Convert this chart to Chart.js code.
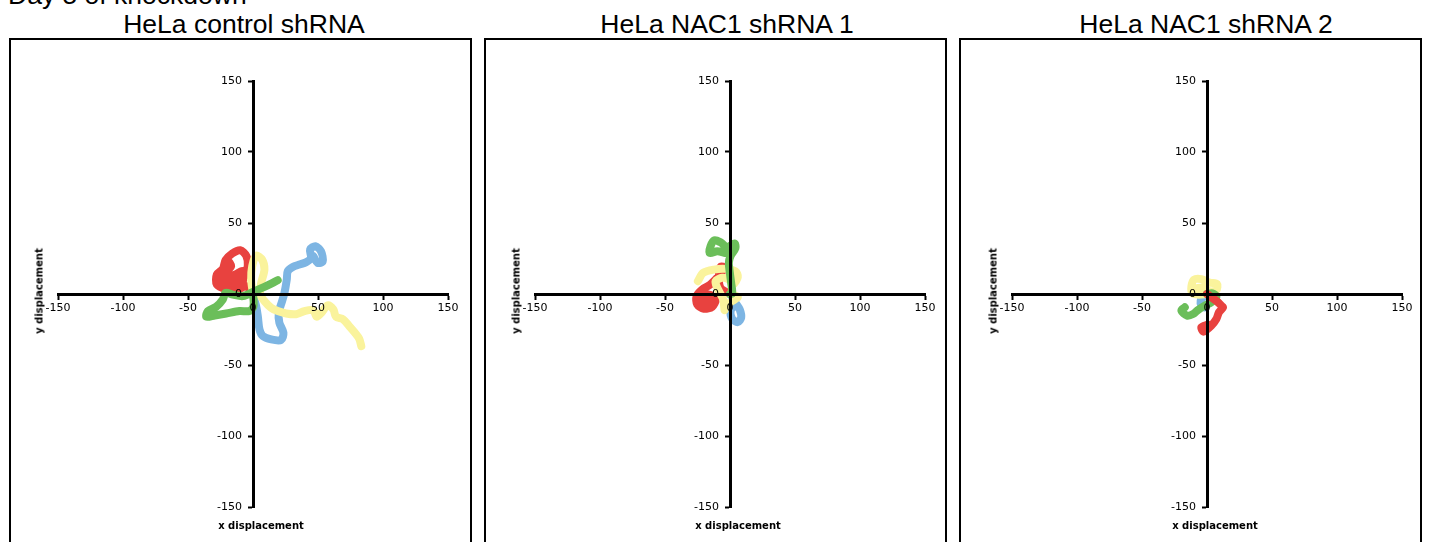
<!DOCTYPE html>
<html>
<head>
<meta charset="utf-8">
<script src="https://cdn.jsdelivr.net/npm/chart.js@4/dist/chart.umd.min.js"></script>
<style>
body { margin: 0; width: 1429px; height: 542px; overflow: hidden; background: #fff; position: relative; font-family: "Liberation Sans", Arial, sans-serif; color: #000; }
.head { position: absolute; left: 8px; top: -18px; font-size: 26.5px; line-height: 26px; white-space: nowrap; }
.title { position: absolute; top: 11px; font-size: 26.5px; line-height: 26px; white-space: nowrap; transform: translateX(-50%); }
.box { position: absolute; top: 38px; width: 459px; height: 520px; border: 2px solid #000; }
canvas { position: absolute; top: 38px; }
.lab { position: absolute; font: bold 10px "DejaVu Sans", Verdana, sans-serif; white-space: nowrap; }
.ylab { transform: translate(-50%, -50%) rotate(-90deg); }
.xlab { transform: translate(-50%, -50%); }
</style>
</head>
<body>
<div class="head">Day 5 of knockdown</div>

<script>
// panel titles
const titles = ["HeLa control shRNA", "HeLa NAC1 shRNA 1", "HeLa NAC1 shRNA 2"];
const ticks = [-150, -100, -50, 0, 50, 100, 150];

// cell tracks, [x, y] displacement
// control shRNA
const ctrlBlue = [[0,0],[0.4,-1.5],[2.4,-8.5],[3.7,-15.6],[5,-25],[7.5,-29.6],[14,-32],[21.6,-32.4],[23.4,-27.3],[20.3,-20.3],[19.8,-13.2],[22.4,-5],[24.2,0.8],[26,10.2],[26.7,16],[30.6,19],[35.7,20.7],[40.8,22.4],[44.6,25.4],[43.9,31.3],[48,33.6],[52.3,30.1],[53.6,23],[49.7,21.9],[46.4,26.6]];
const ctrlRed = [[0,0],[-1,1],[-5.2,5.5],[-11.6,3.2],[-20.6,3.6],[-27.8,6.7],[-27.8,13.7],[-23.2,17.7],[-21.1,23.8],[-16,28.5],[-9.8,30.8],[-5.2,27],[-4,20],[-6.5,12.5],[-11.6,9],[-18,10.2],[-20.6,14.9],[-16.8,19.6],[-19.4,23],[-24.4,12.5],[-23.2,6.7],[-16,5.5],[-8.5,7],[-8,16],[-13,14],[-24,9]];
const ctrlYellow = [[0,0],[-1.4,10.2],[-0.6,19.6],[2.4,27],[7,24.2],[8.8,17.2],[6.3,7.8],[5.5,-0.4],[8.8,-5],[13.9,-9.7],[19,-12],[25.5,-13.7],[33,-14.2],[39.5,-12],[46.4,-11.4],[49,-16],[53,-12.8],[57.4,-8],[61.8,-10.9],[63.8,-16],[69.4,-17.9],[74,-22.6],[78.4,-27.3],[81.7,-31.5],[83.3,-36.7]];
const ctrlGreen = [[0,0],[0.4,-8.5],[-2.7,-12],[-10.4,-12],[-20.6,-13.7],[-29.5,-15.1],[-35.9,-16],[-34.7,-12],[-28.3,-9],[-23.2,-3.9],[-21.1,0.8],[-15.5,-0.4],[-7.8,-1.5],[1.2,2],[8.8,5],[15.2,7.8],[19,9.7]];

// NAC1 shRNA 1
const nac1Blue = [[0,0],[0.9,-1],[4.2,-6.2],[7.5,-10.9],[8.6,-16.7],[6,-19.8],[1.7,-17.5],[0.4,-12],[3,-8.5]];
const nac1Red = [[0,0],[-0.9,0.4],[-7.3,4.3],[-8.6,11.4],[-7.3,19.1],[-4.2,18.4],[-15,6.7],[-21.4,3.2],[-25.7,-1.5],[-25.2,-7.4],[-20.1,-10.4],[-13.7,-9],[-11.1,-3.9],[-16.2,-0.4],[-21,-4],[-18,-7],[-15,-5],[-20,0]];
const nac1Yellow = [[0,0],[6,-2],[1.7,-5],[-3.5,-8.5],[-4.2,-11.4],[-5.2,-3.9],[-9.8,4.3],[-11.1,9],[-6,11.4],[-0.9,10.2],[2.4,6.7],[6,12],[4.2,16],[-3.5,17.7],[-12.4,17.2],[-20.6,14.9],[-24.7,9]];
const nac1Green = [[0,0],[1.7,0.4],[0.9,7.8],[-0.1,14.9],[-0.9,21.9],[0.4,26.6],[4.2,32.4],[3.5,35.5],[-2.2,33.1],[-7.3,36.4],[-11.9,37.8],[-15,33.6],[-15.5,28.9],[-9.8,30.1],[-3.5,28.9]];

// NAC1 shRNA 2
const nac2Blue = [[0,0],[-3,-2.3],[-4.9,-4.7],[-4.3,-8.2],[-1.8,-9.4]];
const nac2Red = [[0,0],[4.1,-2.8],[7.7,-5.2],[11,-8.2],[12.3,-9.4],[9.2,-12.9],[7.2,-17.6],[3.3,-22.3],[-2.6,-26.5],[-4.3,-23.4],[0.8,-21.5]];
const nac2Yellow = [[0,0],[-6.1,-0.5],[-11.3,0.5],[-12,5.2],[-10,10.1],[-4.3,10.5],[2,8],[7.7,7],[7.2,2.8],[2,1.9],[-4,4.5],[-8,4]];
const nac2Green = [[0,0],[4.1,0.5],[7.2,-1.9],[3.3,-5.9],[-1.8,-8.2],[-6.9,-11.2],[-10.7,-14.1],[-15.3,-15.2],[-19.7,-11.7],[-17.1,-9.4]];

const BLUE = "#7db5e3", RED = "#e8423f", YELLOW = "#faf39c", GREEN = "#6bbe5a";

const panels = [
    { boxLeft: 9, plotLeft: 58, titleX: 244, tracks: [[ctrlGreen, GREEN], [ctrlYellow, YELLOW], [ctrlRed, RED], [ctrlBlue, BLUE]] },
    { boxLeft: 484, plotLeft: 535, titleX: 727, tracks: [[nac1Green, GREEN], [nac1Yellow, YELLOW], [nac1Red, RED], [nac1Blue, BLUE]] },
    { boxLeft: 959, plotLeft: 1012, titleX: 1206, tracks: [[nac2Red, RED], [nac2Green, GREEN], [nac2Yellow, YELLOW], [nac2Blue, BLUE]] }
];

function axis(pos, fit, label) {
    return {
        type: "linear",
        min: ticks[0],
        max: ticks[ticks.length - 1],
        position: pos,
        afterFit: fit,
        afterBuildTicks: s => { s.ticks = ticks.map(v => ({ value: v })); },
        ticks: { z: 1, color: "#000", font: { family: "DejaVu Sans", size: 11 }, padding: 4, maxRotation: 0, autoSkip: false, callback: label },
        grid: { z: 1, drawOnChartArea: false, drawTicks: true, tickLength: 4, tickColor: "#000", tickWidth: 2 },
        border: { z: 1, display: true, color: "#000", width: 3 }
    };
}

panels.forEach((p, i) => {
    const box = document.createElement("div");
    box.className = "box";
    box.style.left = p.boxLeft + "px";
    document.body.appendChild(box);

    const t = document.createElement("div");
    t.className = "title";
    t.style.left = p.titleX + "px";
    t.textContent = titles[i];
    document.body.appendChild(t);

    const c = document.createElement("canvas");
    c.width = 462;
    c.height = 504;
    c.style.left = (p.plotLeft - 49) + "px";
    document.body.appendChild(c);

    const yl = document.createElement("div");
    yl.className = "lab ylab";
    yl.style.left = (p.plotLeft - 19) + "px";
    yl.style.top = "291px";
    yl.textContent = "y displacement";
    document.body.appendChild(yl);

    const xl = document.createElement("div");
    xl.className = "lab xlab";
    xl.style.left = (p.plotLeft + 203) + "px";
    xl.style.top = "525px";
    xl.textContent = "x displacement";
    document.body.appendChild(xl);

    new Chart(c, {
        type: "scatter",
        data: {
            datasets: p.tracks.map(([pts, col]) => ({
                data: pts.map(([x, y]) => ({ x, y })),
                showLine: true,
                borderColor: col,
                backgroundColor: col,
                borderWidth: 8,
                pointRadius: 0,
                borderCapStyle: "round",
                borderJoinStyle: "round",
                tension: 0.3
            }))
        },
        options: {
            responsive: false,
            animation: false,
            layout: { padding: { left: 49, right: 23, top: 43, bottom: 35 } },
            plugins: { legend: { display: false }, tooltip: { enabled: false } },
            scales: {
                x: axis({ y: 0 }, s => { s.height = 0; }, v => String(v)),
                // centred y axis ignores tick padding, so pad the label text
                y: axis({ x: 0 }, s => { s.width = 0; }, v => v + "\u2003")
            }
        }
    });
});
</script>
</body>
</html>
